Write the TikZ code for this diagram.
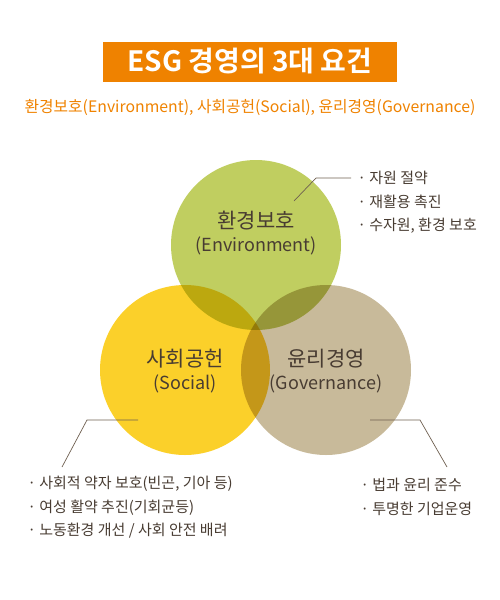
\documentclass[tikz,border=0pt]{standalone}
\usepackage{fontspec}
\setmainfont{Noto Sans CJK KR}
\newfontfamily\titlefont{Noto Sans CJK KR Bold}
\usetikzlibrary{calc}

\definecolor{esgorange}{RGB}{239,130,0}
\definecolor{esggreen}{RGB}{192,206,96}
\definecolor{esgyellow}{RGB}{251,208,42}
\definecolor{esgtan}{RGB}{200,186,154}
\definecolor{esgtext}{RGB}{72,60,50}
\definecolor{esgline}{RGB}{110,95,80}

\tikzset{
  bubble/.style={font=\fontsize{21}{25}\selectfont, text=esgtext, align=center},
  bullets/.style={font=\fontsize{15}{23.5}\selectfont, text=esgtext, align=left, anchor=north west},
  leader/.style={esgline, line width=.7pt}
}

\begin{document}
\begin{tikzpicture}[x=1pt,y=-1pt]
\useasboundingbox (0,0) rectangle (500,600);

% title
\fill[esgorange] (103,42) rectangle (397,82);
\node[text=white, font=\titlefont\fontsize{28}{30}\selectfont] (title) at (250,61) {ESG 경영의 3대 요건};
\node[text=esgorange, font=\fontsize{15.8}{18}\selectfont] (subtitle) at (250,107)
  {환경보호(Environment), 사회공헌(Social), 윤리경영(Governance)};

% circles
\begin{scope}[blend mode=multiply]
\pgfmathsetmacro{\raggio}{85}
\coordinate (env) at (256,245);
\coordinate (soc) at (185,370);
\coordinate (gov) at (326,370);
\fill[esggreen] (env) circle (\raggio);
\fill[esgyellow] (soc) circle (\raggio);
\fill[esgtan] (gov) circle (\raggio);
\end{scope}

\node[bubble] (envlabel) at (256,233) {환경보호\\[-2pt]{\fontsize{18}{22}\selectfont(Environment)}};
\node[bubble] (soclabel) at (185,371) {사회공헌\\[-2pt]{\fontsize{18}{22}\selectfont(Social)}};
\node[bubble] (govlabel) at (326,371) {윤리경영\\[-2pt]{\fontsize{18}{22}\selectfont(Governance)}};

% callouts
\coordinate (enva) at (294,201);
\coordinate (envb) at (316,178);
\coordinate (envc) at (351,178);
\draw[leader] (enva) -- (envb) -- (envc);
\node[bullets] (envlist) at (354,168) {· 자원 절약\\· 재활용 촉진\\· 수자원, 환경 보호};

\coordinate (soca) at (138,420);
\coordinate (socb) at (87,420);
\coordinate (socc) at (62,467);
\draw[leader] (soca) -- (socb) -- (socc);
\node[bullets] (soclist) at (24,473) {· 사회적 약자 보호(빈곤, 기아 등)\\· 여성 활약 추진(기회균등)\\· 노동환경 개선 / 사회 안전 배려};

\coordinate (gova) at (370,420);
\coordinate (govb) at (420,420);
\coordinate (govc) at (447,467);
\draw[leader] (gova) -- (govb) -- (govc);
\node[bullets] (govlist) at (357,475) {· 법과 윤리 준수\\· 투명한 기업운영};

\end{tikzpicture}
\end{document}
